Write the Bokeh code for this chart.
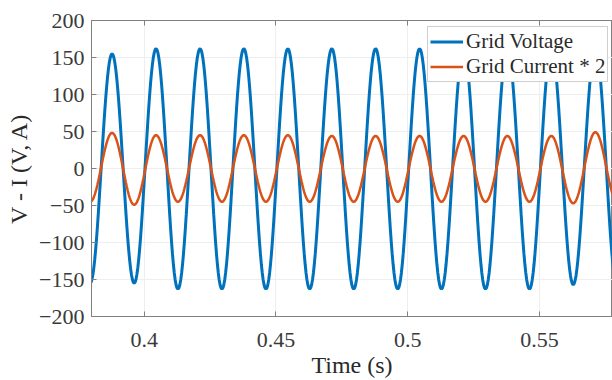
import numpy as np
from bokeh.plotting import figure
from bokeh.models import (Range1d, FixedTicker, LinearAxis, Legend, LegendItem,
                          CustomJSTickFormatter)
from bokeh.embed import file_html
from bokeh.resources import INLINE

# Times (s) of successive extremes (trough, peak, trough, ...)
ext_time = [0.3795, 0.3878, 0.3962, 0.4045, 0.4128, 0.4212, 0.4295, 0.4378,
            0.4462, 0.4545, 0.4628, 0.4712, 0.4795, 0.4878, 0.4962, 0.5045,
            0.5128, 0.5212, 0.5295, 0.5378, 0.5462, 0.5545, 0.5628, 0.5712,
            0.5795]
# Grid voltage (V) at each extreme
voltage_ext = [-155, 155, -155, 162, -163, 162, -163, 162, -163, 162, -163,
               162, -163, 162, -163, 162, -163, 162, -163, 162, -163, 162,
               -157, 162, -160]
# Grid current * 2 (A) at each extreme
current_ext = [-45, 48, -49, 45, -45, 45, -45, 45, -45, 45, -45, 44, -45, 44,
               -45, 44, -45, 44, -45, 44, -45, 44, -47, 49, -45]

x_ticks = [0.4, 0.45, 0.5, 0.55]
y_ticks = [-200, -150, -100, -50, 0, 50, 100, 150, 200]

SERIF = "Liberation Serif"


def waveform(times, extremes, n=24):
    xs, ys = [], []
    for i in range(len(times) - 1):
        s = np.linspace(0, 1, n, endpoint=False)
        xs.extend(times[i] + (times[i + 1] - times[i]) * s)
        ys.extend(extremes[i] + (extremes[i + 1] - extremes[i]) * (1 - np.cos(np.pi * s)) / 2)
    xs.append(times[-1])
    ys.append(extremes[-1])
    return xs, ys


p = figure(width=612, height=380, x_range=Range1d(0.38, 0.5777),
           y_range=Range1d(-200, 200), output_backend="svg",
           toolbar_location=None, min_border_left=91, min_border_right=0,
           min_border_top=20, min_border_bottom=64)
p.background_fill_color = "white"
p.border_fill_color = "white"
p.outline_line_color = "#808080"
p.outline_line_width = 1

vx, vy = waveform(ext_time, voltage_ext)
cx, cy = waveform(ext_time, current_ext)
r1 = p.line(vx, vy, line_color="#0072BD", line_width=3)
r2 = p.line(cx, cy, line_color="#D95319", line_width=2.5)

fmt = CustomJSTickFormatter(code="return Number(tick.toFixed(2)).toString();")

xa = p.xaxis[0]
xa.ticker = FixedTicker(ticks=x_ticks)
xa.formatter = fmt
xa.axis_label = "Time (s)"
ya = p.yaxis[0]
ya.ticker = FixedTicker(ticks=y_ticks)
ya.axis_label = "V - I (V, A)"

for ax in (xa, ya):
    ax.axis_line_color = "#808080"
    ax.major_tick_line_color = "#808080"
    ax.major_tick_in = 5
    ax.major_tick_out = 0
    ax.minor_tick_line_color = None
    ax.major_label_text_font = SERIF
    ax.major_label_text_font_size = "22px"
    ax.major_label_text_color = "#3a3a3a"
    ax.axis_label_text_font = SERIF
    ax.axis_label_text_font_size = "24px"
    ax.axis_label_text_font_style = "normal"
    ax.axis_label_text_color = "#2a2a2a"

xa.major_label_standoff = 16
xa.axis_label_standoff = 2
ya.major_label_standoff = 7
ya.axis_label_standoff = 4

top = LinearAxis(ticker=FixedTicker(ticks=x_ticks), major_label_text_font_size="0px",
                 major_label_text_color=None, major_tick_in=5, major_tick_out=0,
                 minor_tick_line_color=None, axis_line_color="#808080",
                 major_tick_line_color="#808080")
p.add_layout(top, "above")

p.xgrid.ticker = FixedTicker(ticks=x_ticks)
p.ygrid.ticker = FixedTicker(ticks=y_ticks)
p.grid.grid_line_color = "#eeeeee"
p.grid.grid_line_width = 1

legend = Legend(items=[LegendItem(label="Grid Voltage", renderers=[r1]),
                       LegendItem(label="Grid Current * 2", renderers=[r2])],
                location=(336, 234), label_text_font=SERIF,
                label_text_font_size="21px", label_text_color="#2a2a2a",
                glyph_width=33, glyph_height=25, label_height=25,
                label_standoff=3, padding=2, spacing=0, margin=0,
                border_line_color="#a0a0a0", border_line_width=1,
                background_fill_color="white", background_fill_alpha=1)
p.add_layout(legend, "center")

open("out.html", "w").write(file_html(p, INLINE))
